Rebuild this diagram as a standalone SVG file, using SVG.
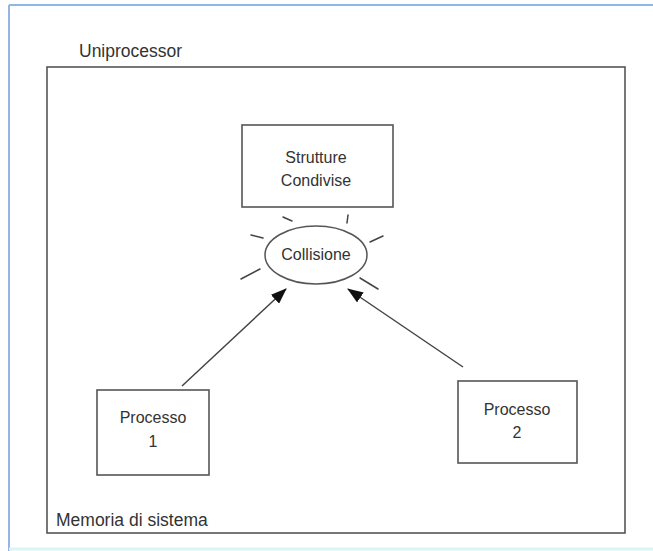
<svg xmlns="http://www.w3.org/2000/svg" width="653" height="551" viewBox="0 0 653 551">
  <defs>
    <style>
      .box { fill: #ffffff; stroke: #555555; stroke-width: 1.6; }
      .lbl { font-family: "Liberation Sans", Arial, sans-serif; font-size: 16px; fill: #333333; }
      .big { font-size: 17.5px; }
      .mid { text-anchor: middle; }
      .ray { stroke: #444444; stroke-width: 1.5; stroke-linecap: round; }
      .conn { stroke: #444444; stroke-width: 1.5; fill: none; }
    </style>
    <marker id="arrowBig" viewBox="0 0 16 12" refX="15" refY="6" markerWidth="16" markerHeight="12" markerUnits="userSpaceOnUse" orient="auto">
      <path d="M0,0 L16,6 L0,12 z" fill="#111111"/>
    </marker>
  </defs>
  <rect x="0" y="0" width="653" height="551" fill="#ffffff"/>
  <!-- page frame -->
  <line x1="9" y1="5" x2="653" y2="5" stroke="#8fb8e4" stroke-width="2"/>
  <line x1="9" y1="5" x2="9" y2="551" stroke="#93b5e6" stroke-width="2"/>
  <line x1="9" y1="549" x2="653" y2="549" stroke="#d6f6f8" stroke-width="3"/>

  <g id="uniprocessor">
    <text class="lbl big" x="79" y="57">Uniprocessor</text>
  </g>
  <g id="memoria">
    <rect class="box" x="47" y="67" width="578" height="466" fill="none"/>
    <text class="lbl big" x="56" y="526">Memoria di sistema</text>
  </g>

  <g id="strutture">
    <rect class="box" x="242" y="125" width="151" height="82"/>
    <text class="lbl mid" x="316" y="163">Strutture</text>
    <text class="lbl mid" x="316" y="186">Condivise</text>
  </g>

  <g id="collisione">
    <ellipse cx="316" cy="255" rx="51" ry="29" fill="#ffffff" stroke="#555555" stroke-width="1.5"/>
    <text class="lbl mid" x="316" y="260">Collisione</text>
    <line class="ray" x1="283" y1="217" x2="292" y2="221"/>
    <line class="ray" x1="348" y1="215" x2="347" y2="223"/>
    <line class="ray" x1="251" y1="235" x2="263" y2="238"/>
    <line class="ray" x1="370" y1="242" x2="383" y2="236"/>
    <line class="ray" x1="241" y1="279" x2="260" y2="269"/>
    <line class="ray" x1="360" y1="278" x2="378" y2="289"/>
  </g>

  <g id="processo1">
    <rect class="box" x="97" y="390" width="112" height="85"/>
    <text class="lbl mid" x="153" y="423">Processo</text>
    <text class="lbl mid" x="153" y="447">1</text>
  </g>

  <g id="processo2">
    <rect class="box" x="458" y="381" width="119" height="82"/>
    <text class="lbl mid" x="517" y="415">Processo</text>
    <text class="lbl mid" x="517" y="438">2</text>
  </g>

  <g id="connectors">
    <line class="conn" x1="182" y1="386" x2="286" y2="289" marker-end="url(#arrowBig)"/>
    <line class="conn" x1="463" y1="367" x2="348" y2="289" marker-end="url(#arrowBig)"/>
  </g>
</svg>
